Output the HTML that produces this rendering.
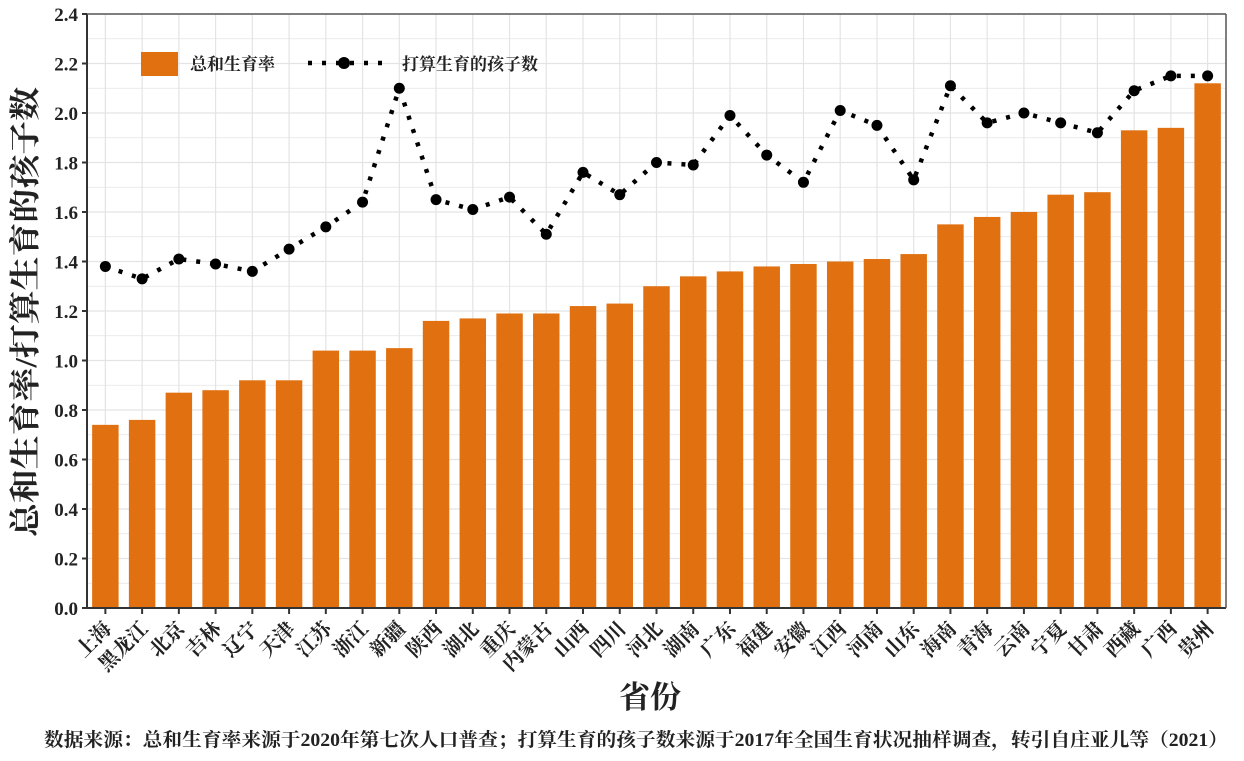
<!DOCTYPE html>
<html><head><meta charset="utf-8"><style>
body{margin:0;background:#fff}
svg text{font-family:"Liberation Serif","Noto Serif CJK SC",serif;font-weight:bold;fill:#222}
</style></head><body>
<svg id="c" width="1244" height="756" xmlns="http://www.w3.org/2000/svg"></svg>
<script>
const provinces=["上海","黑龙江","北京","吉林","辽宁","天津","江苏","浙江","新疆","陕西","湖北","重庆","内蒙古","山西","四川","河北","湖南","广东","福建","安徽","江西","河南","山东","海南","青海","云南","宁夏","甘肃","西藏","广西","贵州"];
const tfrValues=[0.74,0.76,0.87,0.88,0.92,0.92,1.04,1.04,1.05,1.16,1.17,1.19,1.19,1.22,1.23,1.30,1.34,1.36,1.38,1.39,1.40,1.41,1.43,1.55,1.58,1.60,1.67,1.68,1.93,1.94,2.12];
const intendedValues=[1.38,1.33,1.41,1.39,1.36,1.45,1.54,1.64,2.10,1.65,1.61,1.66,1.51,1.76,1.67,1.80,1.79,1.99,1.83,1.72,2.01,1.95,1.73,2.11,1.96,2.00,1.96,1.92,2.09,2.15,2.15];
const yTicks=["0.0","0.2","0.4","0.6","0.8","1.0","1.2","1.4","1.6","1.8","2.0","2.2","2.4"];
const svg=document.getElementById('c');const NS="http://www.w3.org/2000/svg";
function mk(t,a,p){const e=document.createElementNS(NS,t);for(const k in a)e.setAttribute(k,a[k]);(p||svg).appendChild(e);return e;}
const L=87,R=1226,T=14,B=608,ymax=2.4;
const n=provinces.length,step=(R-L)/n;
const x=i=>L+step*(i+0.5);
const y=v=>B-(v/ymax)*(B-T);
for(let v=0;v<=24;v++){const g=mk('line',{x1:L,x2:R,y1:y(v/10),y2:y(v/10),stroke:'#e4e4e4','stroke-width':v%2?0.8:1.2});
}
for(let i=0;i<n;i++){const g=mk('line',{x1:x(i),x2:x(i),y1:T,y2:B,stroke:'#e4e4e4','stroke-width':1.2});
}
tfrValues.forEach((v,i)=>{const r=mk('rect',{x:x(i)-step*0.36,y:y(v),width:step*0.72,height:B-y(v),fill:'#e07010'});
});
const pts=intendedValues.map((v,i)=>x(i)+','+y(v)).join(' ');
const pl=mk('polyline',{points:pts,fill:'none',stroke:'#000','stroke-width':4.5,'stroke-dasharray':'4 10'});

intendedValues.forEach((v,i)=>{const c=mk('circle',{cx:x(i),cy:y(v),r:5.5,fill:'#000'});
});
mk('line',{x1:L,x2:L,y1:T,y2:B,stroke:'#333','stroke-width':2});
mk('line',{x1:L,x2:R,y1:B,y2:B,stroke:'#333','stroke-width':2});
mk('line',{x1:L,x2:R,y1:T,y2:T,stroke:'#555','stroke-width':1.5});
mk('line',{x1:R,x2:R,y1:T,y2:B,stroke:'#555','stroke-width':1.5});
yTicks.forEach(t=>{const v=parseFloat(t);mk('line',{x1:L-5,x2:L,y1:y(v),y2:y(v),stroke:'#333','stroke-width':2});
const tx=mk('text',{x:L-9,y:y(v)+7,'text-anchor':'end','font-size':19});tx.textContent=t;
});
provinces.forEach((p,i)=>{mk('line',{x1:x(i),x2:x(i),y1:B,y2:B+6,stroke:'#333','stroke-width':2});
const tx=mk('text',{x:x(i)+7,y:B+22,'text-anchor':'end','font-size':20,transform:`rotate(-45 ${x(i)+7} ${B+22})`});tx.textContent=p;
});
let t=mk('text',{x:36,y:312,'text-anchor':'middle','font-size':31,textLength:450,lengthAdjust:'spacingAndGlyphs',transform:'rotate(-90 36 312)'});t.textContent='总和生育率/打算生育的孩子数';

t=mk('text',{x:650,y:708,'text-anchor':'middle','font-size':31});t.textContent='省份';

t=mk('text',{x:44,y:746,'font-size':19,textLength:1184,lengthAdjust:'spacingAndGlyphs'});t.textContent='数据来源：总和生育率来源于2020年第七次人口普查；打算生育的孩子数来源于2017年全国生育状况抽样调查，转引自庄亚儿等（2021）';

const lg=mk('g',{});
mk('rect',{x:141,y:52,width:37,height:24,fill:'#e07010'},lg);
t=mk('text',{x:190,y:70,'font-size':17},lg);t.textContent='总和生育率';
mk('line',{x1:308,x2:382,y1:63,y2:63,stroke:'#000','stroke-width':4.5,'stroke-dasharray':'4 10'},lg);
mk('circle',{cx:344,cy:63,r:6,fill:'#000'},lg);
t=mk('text',{x:402,y:70,'font-size':17},lg);t.textContent='打算生育的孩子数';
</script>
</body></html>
